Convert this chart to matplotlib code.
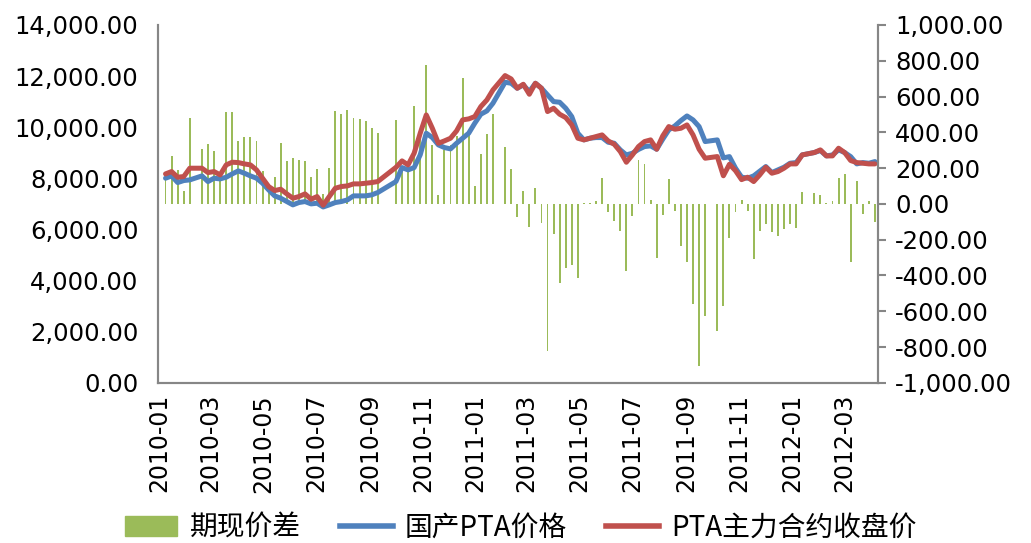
import numpy as np
import pandas as pd
import matplotlib
matplotlib.use("Agg")
import matplotlib.pyplot as plt
import matplotlib.dates as mdates
from matplotlib.ticker import FuncFormatter, MultipleLocator
from matplotlib.lines import Line2D
from matplotlib.patches import Patch

plt.rcParams['font.family'] = ['Noto Sans CJK SC', 'DejaVu Sans']

# 周度数据, 节假日那几周没有数据 (nan)
weeks = pd.date_range('2010-01-08', periods=118, freq='7D')
nan = np.nan

# 期现价差 (右轴)
spread = [140, 270, 192, 71, 481, nan, 307, 335, 293, 150,
          516, 516, 354, 373, 373, 350, 186, 110, 149, 339,
          238, 257, 246, 238, 149, 194, 56, 199, 518, 503,
          525, 481, 475, 466, 425, 397, nan, nan, 470, 200,
          230, 546, 380, 777, 330, 50, 300, 330, 380, 704,
          401, 102, 280, 388, 503, nan, 317, 196, -75, 71,
          -127, 88, -106, -824, -171, -443, -358, -339, -416, 5,
          5, 15, 145, -43, -93, -149, -373, -69, 246, 224,
          19, -302, -61, 140, -41, -237, -326, -559, -907, -624,
          nan, -708, -572, -192, -47, 19, -41, -307, -149, -112,
          -155, -177, -140, -112, -134, 65, nan, 60, 47, 5,
          15, 145, 168, -326, 130, -56, 15, -99]

# 国产PTA价格 (左轴)
spot = [8005, 8095, 7835, 7913, 7939, nan, 8095, 7874, 8005, 7978,
        8044, 8174, 8291, 8200, 8095, 8005, 7809, 7548, 7314, 7222,
        7092, 6962, 7053, 7092, 7000, 7027, 6880, 6962, 7053, 7092,
        7157, 7314, 7314, 7314, 7353, 7444, nan, nan, 7874, 8422,
        8330, 8422, 8917, 9765, 9595, 9308, 9204, 9152, 9373, 9569,
        9765, 10156, 10508, 10638, 10938, nan, 11759, 11720, 11525, 11655,
        11394, 11720, 11525, 11264, 11003, 10977, 10742, 10416, 9765, 9504,
        9569, 9595, 9595, 9412, 9373, 9113, 8917, 8982, 9130, 9243,
        9269, 9139, 9530, 9895, 10051, 10260, 10442, 10286, 10025, 9439,
        nan, 9504, 8800, 8850, 8400, 8050, 8005, 8096, 8280, 8461,
        8226, 8330, 8435, 8591, 8617, 8917, nan, 9009, 9087, 8878,
        8917, 9113, 9009, 8850, 8565, 8617, 8591, 8656]

# PTA主力合约收盘价 (左轴)
futures = [8174, 8265, 8044, 8070, 8396, nan, 8396, 8226, 8265, 8135,
           8526, 8630, 8617, 8565, 8526, 8330, 8005, 7679, 7522, 7574,
           7392, 7222, 7287, 7392, 7183, 7287, 6950, 7287, 7613, 7679,
           7705, 7783, 7783, 7809, 7835, 7874, nan, nan, 8430, 8682,
           8526, 8982, 9765, 10481, 9960, 9373, 9465, 9569, 9856, 10286,
           10325, 10416, 10808, 11068, 11459, nan, 12020, 11889, 11525, 11681,
           11290, 11720, 11525, 10612, 10742, 10508, 10377, 10090, 9569, 9504,
           9569, 9634, 9699, 9465, 9334, 9048, 8630, 8917, 9243, 9439,
           9504, 9139, 9660, 10025, 9921, 9960, 10090, 9699, 9139, 8787,
           nan, 8852, 8100, 8550, 8300, 7950, 8044, 7874, 8135, 8435,
           8200, 8265, 8396, 8565, 8565, 8917, nan, 9009, 9113, 8878,
           8878, 9178, 9009, 8695, 8617, 8591, 8565, 8565]

labels = ['期现价差', '国产PTA价格', 'PTA主力合约收盘价']
green, blue, red = '#9BBB59', '#4F81BD', '#C0504D'
axis_grey = '#868686'

spread = np.array(spread, dtype=float)
spot = np.array(spot, dtype=float)
futures = np.array(futures, dtype=float)

fig = plt.figure(figsize=(10.31, 5.43), dpi=100)
ax = fig.add_axes([0.153, 0.295, 0.699, 0.659])
ax2 = ax.twinx()

# 柱子画在右轴, 线画在左轴 (左轴放上层)
m = ~np.isnan(spread)
ax2.bar(weeks[m], spread[m], width=2.2, color=green, zorder=1)
m = ~np.isnan(spot)
ax.plot(weeks[m], spot[m], color=blue, lw=3.6, solid_capstyle='round')
m = ~np.isnan(futures)
ax.plot(weeks[m], futures[m], color=red, lw=3.6, solid_capstyle='round')
ax.set_zorder(ax2.get_zorder() + 1)
ax.patch.set_visible(False)

ax.set_ylim(0, 14000)
ax.yaxis.set_major_locator(MultipleLocator(2000))
ax2.set_ylim(-1000, 1000)
ax2.yaxis.set_major_locator(MultipleLocator(200))
fmt = FuncFormatter(lambda v, p: f'{v:,.2f}')
ax.yaxis.set_major_formatter(fmt)
ax2.yaxis.set_major_formatter(fmt)

ax.set_xlim(pd.Timestamp('2009-12-30'), pd.Timestamp('2012-04-10'))
ax.xaxis.set_major_locator(mdates.MonthLocator(bymonth=[1, 3, 5, 7, 9, 11]))
ax.xaxis.set_major_formatter(mdates.DateFormatter('%Y-%m'))

for a in (ax, ax2):
    a.spines['top'].set_visible(False)
    for s in ('left', 'right', 'bottom'):
        a.spines[s].set_color(axis_grey)
        a.spines[s].set_linewidth(1.5)
ax.tick_params(axis='y', length=0, pad=14, labelsize=17.5, colors='black')
ax2.tick_params(axis='y', length=6, width=1.5, color=axis_grey, pad=6, labelsize=17.5)
ax.tick_params(axis='x', length=0, pad=8, labelsize=17, labelrotation=90)
for t in ax.get_xticklabels() + ax.get_yticklabels() + ax2.get_yticklabels():
    t.set_fontfamily('DejaVu Sans')

handles = [Patch(color=green),
           Line2D([], [], color=blue, lw=4),
           Line2D([], [], color=red, lw=4)]
fig.legend(handles, labels, loc='center', bbox_to_anchor=(0.505, 0.028), ncol=3,
           frameon=False, fontsize=20, handlelength=1.9, handleheight=0.7,
           handletextpad=0.45, columnspacing=1.4)

fig.savefig('out.png', dpi=100)
